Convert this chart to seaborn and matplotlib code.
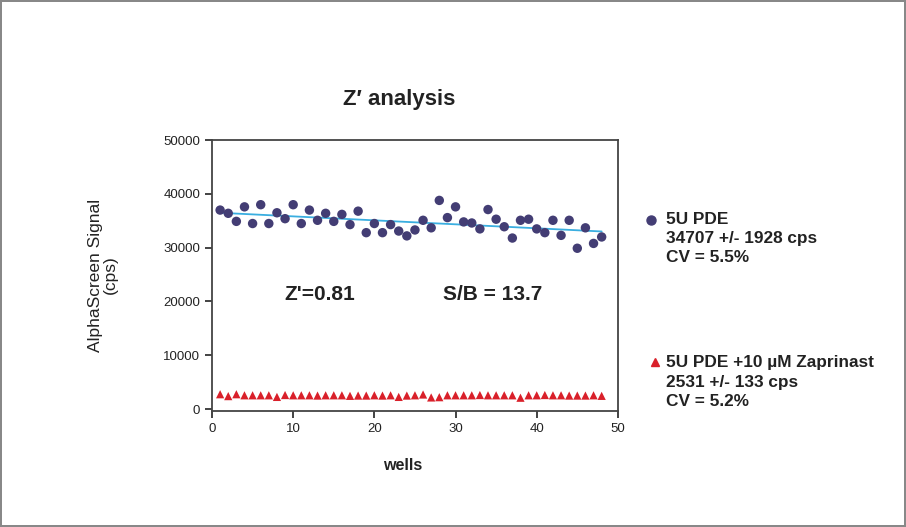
import matplotlib
matplotlib.use("Agg")
import matplotlib.pyplot as plt
import seaborn as sns
import numpy as np
import pandas as pd
from matplotlib.lines import Line2D

# dados
wells = list(range(1, 49))
pde_signal = [37000, 36400, 34900, 37600, 34500, 38000, 34500, 36500, 35400, 38000,
              34500, 37000, 35100, 36400, 34900, 36200, 34300, 36800, 32800, 34500,
              32800, 34300, 33100, 32200, 33300, 35100, 33700, 38800, 35600, 37600,
              34800, 34600, 33500, 37100, 35300, 33900, 31800, 35100, 35300, 33500,
              32800, 35100, 32300, 35100, 29900, 33700, 30800, 32000]
zap_signal = [2750, 2400, 2750, 2550, 2550, 2550, 2550, 2250, 2600, 2550,
              2550, 2550, 2500, 2550, 2550, 2550, 2450, 2500, 2500, 2550,
              2500, 2550, 2250, 2500, 2550, 2700, 2150, 2200, 2550, 2550,
              2550, 2550, 2600, 2550, 2550, 2550, 2550, 2100, 2550, 2550,
              2600, 2550, 2550, 2500, 2500, 2500, 2550, 2450]

legend_pde = ["5U PDE", "34707 +/- 1928 cps", "CV = 5.5%"]
legend_zap = ["5U PDE +10 µM Zaprinast", "2531 +/- 133 cps", "CV = 5.2%"]

df = pd.DataFrame({"wells": wells, "pde": pde_signal, "zap": zap_signal})

blue = "#433d74"
red = "#d9202a"
cyan = "#3aaee0"
txt = "#222222"

sns.set_style("ticks")
plt.rcParams['font.family'] = ['Liberation Sans', 'DejaVu Sans']

fig = plt.figure(figsize=(9.06, 5.27), dpi=100)
fig.patch.set_edgecolor("#888888")
fig.patch.set_linewidth(1.5)
ax = fig.add_axes([0.234, 0.220, 0.448, 0.514])

sns.regplot(x="wells", y="pde", data=df, ax=ax, ci=None, scatter=False,
            line_kws={"color": cyan, "linewidth": 1.3})
sns.scatterplot(x="wells", y="pde", data=df, ax=ax, color=blue, s=46,
                edgecolor="none", zorder=3)
sns.scatterplot(x="wells", y="zap", data=df, ax=ax, color=red, marker="^",
                s=35, edgecolor="none", zorder=3)

ax.set_xlim(0, 50)
ax.set_ylim(-380, 50000)
ax.set_xticks(np.arange(0, 51, 10))
ax.set_yticks(np.arange(0, 50001, 10000))
ax.tick_params(labelsize=9.5, length=5, width=1.2, colors=txt)
for sp in ax.spines.values():
    sp.set_visible(True)
    sp.set_color("#444444")
    sp.set_linewidth(1.3)
ax.set_xlabel("")
ax.set_ylabel("")

fig.text(0.441, 1 - 99 / 527, "Z\u2032 analysis", fontsize=16, fontweight="bold",
         ha="center", va="center", color=txt)
fig.text(0.353, 1 - 295 / 527, "Z'=0.81", fontsize=15, fontweight="bold", ha="center", va="center", color=txt)
fig.text(0.544, 1 - 295 / 527, "S/B = 13.7", fontsize=15, fontweight="bold", ha="center", va="center", color=txt)
fig.text(0.444, 1 - 466 / 527, "wells", fontsize=11.5, fontweight="bold", ha="center", va="center", color=txt)
fig.text(0.114, 0.478, "AlphaScreen Signal\n(cps)", fontsize=12.5, rotation=90,
         ha="center", va="center", linespacing=1.0, color=txt)

# legenda à direita
fig.add_artist(Line2D([651 / 906], [1 - 220 / 527], marker="o", color=blue,
                      markersize=6.5, linestyle="none", transform=fig.transFigure))
for i, t in enumerate(legend_pde):
    fig.text(666 / 906, 1 - (220 + 18.5 * i) / 527, t, fontsize=12.4, fontweight="bold",
             ha="left", va="center", color=txt)
fig.add_artist(Line2D([655 / 906], [1 - 362 / 527], marker="^", color=red,
                      markersize=5.5, linestyle="none", transform=fig.transFigure))
for i, t in enumerate(legend_zap):
    fig.text(666 / 906, 1 - (363 + 19.5 * i) / 527, t, fontsize=12.4, fontweight="bold",
             ha="left", va="center", color=txt)

plt.savefig("out.png", dpi=100)
